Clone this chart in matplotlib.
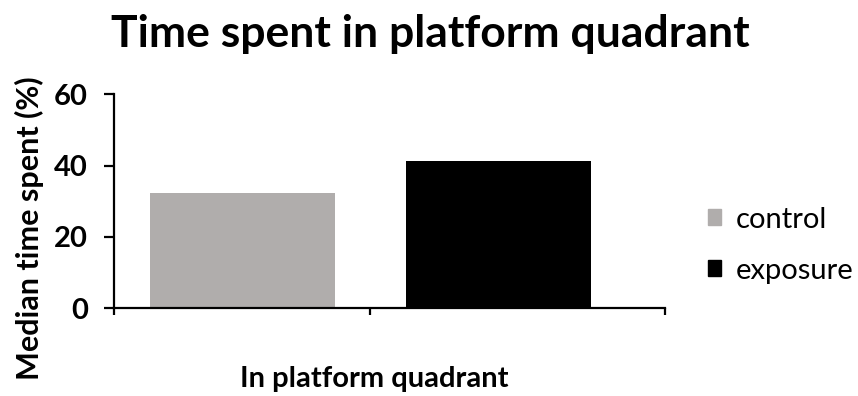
import matplotlib
matplotlib.use('Agg')
import matplotlib.pyplot as plt
from matplotlib.patches import Patch

# data
groups = ['control', 'exposure']
median_time = [32.2, 41.2]
colors = ['#b0adac', '#000000']

plt.rcParams['font.family'] = ['Lato', 'DejaVu Sans']

fig = plt.figure(figsize=(8.58, 3.96), dpi=100)
ax = fig.add_axes([0.1329, 0.2222, 0.6421, 0.5392])

x = range(len(groups))
ax.bar(x, median_time, width=0.723, color=colors)

ax.set_ylim(0, 60)
ax.set_yticks([0, 20, 40, 60])
ax.set_xlim(-0.5, 1.65)
ax.set_xticks([-0.5, 0.5, 1.65])
ax.set_xticklabels([])

for s in ['top', 'right']:
    ax.spines[s].set_visible(False)
for s in ['left', 'bottom']:
    ax.spines[s].set_linewidth(1.6)
ax.tick_params(axis='y', length=7, width=1.6, labelsize=21, pad=12)
ax.tick_params(axis='x', length=5, width=1.6)
for lab in ax.get_yticklabels():
    lab.set_fontweight('bold')

ax.set_ylabel('Median time spent (%)', fontsize=22, fontweight='bold')
ax.yaxis.set_label_coords(-0.128, 0.375)
ax.set_xlabel('In platform quadrant', fontsize=21, fontweight='bold')
ax.xaxis.set_label_coords(0.472, -0.27)

fig.suptitle('Time spent in platform quadrant', x=0.501, y=0.965,
             fontsize=32, fontweight='bold')

handles = [Patch(color=c, label=g) for g, c in zip(groups, colors)]
fig.legend(handles=handles, loc='center left', bbox_to_anchor=(0.825, 0.381),
           frameon=False, fontsize=21, handlelength=0.45, handleheight=0.45,
           handletextpad=0.5, labelspacing=0.85, borderpad=0, borderaxespad=0)

fig.savefig('out.png', dpi=100)
